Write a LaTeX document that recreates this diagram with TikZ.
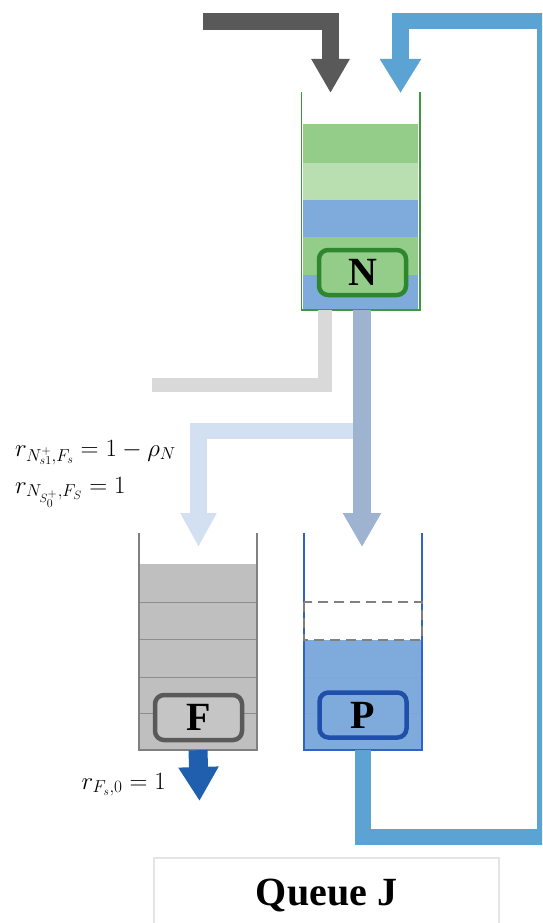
\documentclass[tikz,border=0pt]{standalone}
\usepackage{fontspec}
\setmainfont{Liberation Serif}
\usetikzlibrary{arrows.meta}

\definecolor{darkflow}{HTML}{595959}
\definecolor{loopblue}{HTML}{5BA3D3}
\definecolor{paleflow}{HTML}{D9D9D9}
\definecolor{slateflow}{HTML}{9DB3CF}
\definecolor{skyflow}{HTML}{D2E0F1}
\definecolor{outblue}{HTML}{1F5FAD}
\definecolor{bandgreen}{HTML}{93CD89}
\definecolor{bandlight}{HTML}{B9DFB0}
\definecolor{bandblue}{HTML}{7FAADC}
\definecolor{wallgreen}{HTML}{3C9A3C}
\definecolor{boxgreen}{HTML}{2E872E}
\definecolor{wallgrey}{HTML}{808080}
\definecolor{fillgrey}{HTML}{BFBFBF}
\definecolor{boxgrey}{HTML}{595959}
\definecolor{wallblue}{HTML}{2F63C6}
\definecolor{boxblue}{HTML}{1F4FA8}

\tikzset{
  flow/.style={line width=#1, line join=miter, line cap=butt},
  headbig/.style={-{Triangle[width=#1,length=34pt]}},
  queue/.style={minimum width=118pt, minimum height=217pt, inner sep=0pt},
  wall/.style={line width=1.6pt},
  qbox/.style={rounded corners=9pt, line width=4.5pt, minimum width=87pt,
    minimum height=45pt, inner sep=0pt,
    font=\fontsize{40}{40}\selectfont\bfseries},
  rate/.style={font=\fontsize{25.5}{30}\selectfont, inner sep=0pt}
}

\begin{document}
\begin{tikzpicture}[x=1pt,y=-1pt]
\useasboundingbox (0,0) rectangle (542,923);
\clip (0,0) rectangle (542,923);

% queue containers (open at the top)
\node[queue] (Nq) at (360.5,201) {};
\node[queue] (Fq) at (198,641.5) {};
\node[queue] (Pq) at (363,641.5) {};

% --- queue N: stacked bands ---
\fill[bandgreen] (303,124) rectangle (418,163);
\fill[bandlight] (303,163) rectangle (418,200);
\fill[bandblue]  (303,200) rectangle (418,237);
\fill[bandgreen] (303,237) rectangle (418,275);
\fill[bandblue]  (303,275) rectangle (418,310);
\draw[wall, wallgreen] (Nq.north west) -- (Nq.south west) -- (Nq.south east) -- (Nq.north east);

% --- queue F ---
\fill[fillgrey] (139,564) rectangle (257,750);
\foreach \yy in {602,639,677,713}
  \draw[line width=0.8pt, wallgrey!90] (139,\yy) -- (257,\yy);
\draw[wall, wallgrey] (Fq.north west) -- (Fq.south west) -- (Fq.south east) -- (Fq.north east);

% --- queue P ---
\fill[bandblue] (304,640) rectangle (422,750);
\foreach \yy in {677,713}
  \draw[line width=0.8pt, wallblue!60] (304,\yy) -- (422,\yy);
\draw[wall, wallblue] (Pq.north west) -- (Pq.south west) -- (Pq.south east) -- (Pq.north east);
\draw[line width=2pt, wallgrey, dash pattern=on 10pt off 6pt] (304,602) rectangle (422,640);

% labelled boxes
\node[qbox, draw=boxgreen, fill=bandgreen] (Nbox) at (362.5,272.5) {N};
\node[qbox, draw=boxgrey, fill=fillgrey!90!white] (Fbox) at (198.5,717.5) {F};
\node[qbox, draw=boxblue, fill=bandblue] (Pbox) at (363,715) {P};

% connector end points
\coordinate (darkin) at (203,21.5);
\coordinate (Nin1) at (330.5,93);
\coordinate (Nin2) at (400.5,93);
\coordinate (loopBR) at (545.5,837);
\coordinate (loopTR) at (545.5,21);
\coordinate (Nout1) at (324.5,310);
\coordinate (Nout2) at (362,310);
\coordinate (paleend) at (152,385);
\coordinate (split) at (362,431);
\coordinate (Fin) at (198.5,547);
\coordinate (Pin) at (362,547);
\coordinate (Fout) at (199.5,801);

% arrivals into N
\draw[flow=17pt, darkflow, headbig=36pt] (darkin) -| (Nin1);
\draw[flow=16.5pt, loopblue, headbig=39pt] (Pq.south) |- (loopBR) -- (loopTR) -| (Nin2);

% departures from N
\draw[flow=14pt, paleflow] (Nout1) |- (paleend);
\draw[flow=16.5pt, skyflow, headbig=34pt] (split) -| (Fin);
\draw[flow=18pt, slateflow, headbig=36pt] (Nout2) -- (Pin);

% departure from F
\draw[flow=19pt, outblue, headbig=38pt] (Fq.south) -- (Fout);

% routing probabilities
\node[rate, anchor=base west] (r1) at (15,456) {$r_{N^+_{s1},F_s} = 1-\rho_N$};
\node[rate, anchor=base west] (r2) at (15,493) {$r_{N_{S_0^+},F_S} = 1$};
\node[rate, anchor=base east] (r3) at (166,789) {$r_{F_s,0} = 1$};

% caption box
\node[draw=black!10, line width=1.5pt, minimum width=345pt, minimum height=74pt,
      font=\fontsize{40}{40}\selectfont\bfseries] (title) at (326.5,895) {Queue J};
\end{tikzpicture}
\end{document}
